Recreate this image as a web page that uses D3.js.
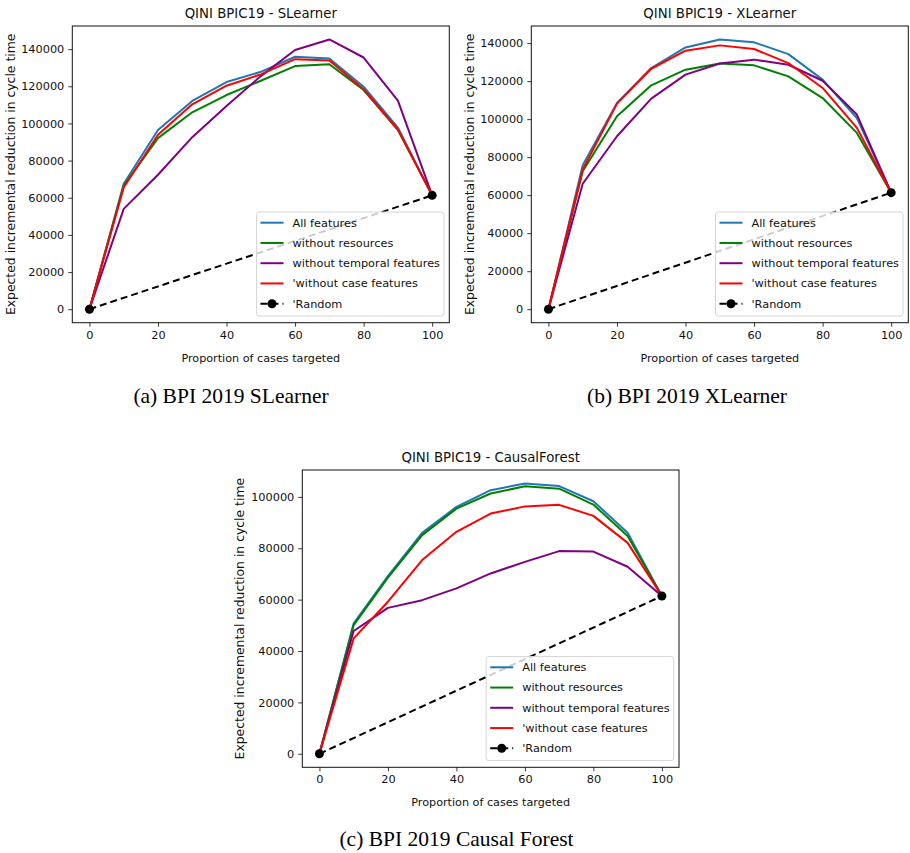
<!DOCTYPE html>
<html>
<head>
<meta charset="utf-8">
<script src="https://cdn.jsdelivr.net/npm/d3@7"></script>
<style>
body { margin: 0; background: #fff; }
text { font-family: "DejaVu Sans", sans-serif; fill: #111; }
.caption { font-family: "Liberation Serif", "Times New Roman", serif; font-size: 21.5px; fill: #000; }
</style>
</head>
<body>
<div id="chart"></div>
<script>
// proportion of cases targeted
var xs = [0, 10, 20, 30, 40, 50, 60, 70, 80, 90, 100];

var seriesNames = ["All features", "without resources", "without temporal features", "'without case features"];
var seriesColors = ["#1f77b4", "green", "purple", "red"];

// SLearner
var sAll      = [0, 67500, 96500, 112100, 122300, 127800, 135900, 135000, 119800, 97800, 61300];
var sNoRes    = [0, 66500, 92100, 106000, 115300, 123000, 130900, 131900, 118000, 96600, 61300];
var sNoTemp   = [0, 54000, 72400, 92600, 109400, 125500, 139500, 145200, 135500, 112300, 61300];
var sNoCase   = [0, 65500, 93900, 110300, 120300, 126400, 134600, 133900, 118400, 96600, 61300];

// XLearner
var xAll      = [0, 75800, 108500, 126900, 137700, 141900, 140400, 134200, 120800, 100600, 61300];
var xNoRes    = [0, 72600, 101500, 117800, 126000, 129300, 128300, 122500, 111100, 92750, 61300];
var xNoTemp   = [0, 66000, 91000, 110800, 123400, 129300, 131300, 128600, 120200, 102400, 61300];
var xNoCase   = [0, 73500, 108150, 126500, 136000, 138800, 136900, 129500, 116400, 95400, 61300];

// CausalForest
var cAll      = [0, 50800, 69150, 86000, 96100, 102600, 105200, 104200, 98300, 86000, 61400];
var cNoRes    = [0, 50100, 68600, 85100, 95400, 101300, 104100, 103200, 97000, 84800, 61400];
var cNoTemp   = [0, 47800, 56800, 59800, 64400, 70200, 74700, 78900, 78700, 72800, 61400];
var cNoCase   = [0, 44900, 59200, 75400, 86400, 93500, 96300, 96900, 92600, 82100, 61400];

var randomX = [0, 100];
var randomS = [0, 61300];
var randomX2 = [0, 61300];
var randomC = [0, 61400];

var xTicks = [0, 20, 40, 60, 80, 100];

var svg = d3.select("#chart").append("svg")
	.attr("width", 910)
	.attr("height", 853);

function drawPanel(cfg) {
	var g = svg.append("g");
	var left = cfg.left, top = cfg.top, w = cfg.w, h = cfg.h;

	var allVals = cfg.series.reduce(function(a, s) { return a.concat(s); }, []).concat(cfg.random);
	var ymax = d3.max(allVals), ymin = 0;
	var pad = (ymax - ymin) * 0.05;

	var xScale = d3.scaleLinear().domain([-5, 105]).range([left, left + w]);
	var yScale = d3.scaleLinear().domain([ymin - pad, ymax + pad]).range([top + h, top]);

	var line = d3.line()
		.x(function(d) { return xScale(d[0]); })
		.y(function(d) { return yScale(d[1]); });

	cfg.series.forEach(function(s, i) {
		g.append("path")
			.datum(xs.map(function(x, j) { return [x, s[j]]; }))
			.attr("d", line)
			.attr("fill", "none")
			.attr("stroke", seriesColors[i])
			.attr("stroke-width", 2)
			.attr("stroke-linejoin", "round");
	});

	var rnd = randomX.map(function(x, j) { return [x, cfg.random[j]]; });
	g.append("path")
		.datum(rnd)
		.attr("d", line)
		.attr("fill", "none")
		.attr("stroke", "black")
		.attr("stroke-width", 2)
		.attr("stroke-dasharray", "7,4");
	g.selectAll(".dot").data(rnd).enter()
		.append("circle")
		.attr("cx", function(d) { return xScale(d[0]); })
		.attr("cy", function(d) { return yScale(d[1]); })
		.attr("r", 4.5)
		.attr("fill", "black");

	// axes
	var xAxis = g.append("g")
		.attr("transform", "translate(0," + (top + h) + ")")
		.call(d3.axisBottom(xScale).tickValues(xTicks).tickSize(4).tickPadding(4));
	var yAxis = g.append("g")
		.attr("transform", "translate(" + left + ",0)")
		.call(d3.axisLeft(yScale).ticks(8).tickSize(4).tickPadding(4).tickFormat(d3.format("d")));
	[xAxis, yAxis].forEach(function(a) {
		a.select(".domain").remove();
		a.selectAll("text").attr("font-size", 11.3).attr("font-family", "DejaVu Sans");
		a.selectAll("line").attr("stroke", "#222").attr("stroke-width", 0.9);
	});
	g.append("rect")
		.attr("x", left).attr("y", top)
		.attr("width", w).attr("height", h)
		.attr("fill", "none")
		.attr("stroke", "#111")
		.attr("stroke-width", 1);

	// titles
	g.append("text")
		.attr("x", left + w / 2).attr("y", top - 8)
		.attr("text-anchor", "middle")
		.attr("font-size", 13.3)
		.text(cfg.title);
	g.append("text")
		.attr("x", left + w / 2).attr("y", top + h + 39)
		.attr("text-anchor", "middle")
		.attr("font-size", 11.2)
		.text("Proportion of cases targeted");
	g.append("text")
		.attr("transform", "translate(" + cfg.ylabX + "," + (top + h / 2) + ") rotate(-90)")
		.attr("text-anchor", "middle")
		.attr("dy", "0.35em")
		.attr("font-size", 12.4)
		.text("Expected incremental reduction in cycle time");

	// legend
	var lw = 187.5, lh = 104;
	var lx = left + w - 5.3 - lw, ly = top + h - 6.7 - lh;
	var leg = g.append("g").attr("transform", "translate(" + lx + "," + ly + ")");
	leg.append("rect")
		.attr("width", lw).attr("height", lh)
		.attr("rx", 2.5)
		.attr("fill", "white").attr("fill-opacity", 0.8)
		.attr("stroke", "#d6d6d6").attr("stroke-width", 1);
	var names = seriesNames.concat(["'Random"]);
	names.forEach(function(n, i) {
		var yy = 10.7 + i * 20.25;
		var ln = leg.append("line")
			.attr("x1", 4).attr("x2", 27)
			.attr("y1", yy).attr("y2", yy)
			.attr("stroke", i < 4 ? seriesColors[i] : "black")
			.attr("stroke-width", 2);
		if (i === 4) {
			ln.attr("stroke-dasharray", "7,4");
			leg.append("circle").attr("cx", 15.5).attr("cy", yy).attr("r", 4.5).attr("fill", "black");
		}
		leg.append("text")
			.attr("x", 36).attr("y", yy)
			.attr("dy", "0.35em")
			.attr("font-size", 11.3)
			.text(n);
	});

	svg.append("text")
		.attr("class", "caption")
		.attr("x", cfg.capX).attr("y", cfg.capY)
		.attr("text-anchor", "middle")
		.text(cfg.caption);
}

drawPanel({
	left: 72.3, top: 26, w: 377, h: 296.7,
	series: [sAll, sNoRes, sNoTemp, sNoCase], random: randomS,
	title: "QINI BPIC19 - SLearner", ylabX: 11,
	caption: "(a) BPI 2019 SLearner", capX: 231, capY: 403
});
drawPanel({
	left: 531.3, top: 26, w: 377, h: 296.7,
	series: [xAll, xNoRes, xNoTemp, xNoCase], random: randomX2,
	title: "QINI BPIC19 - XLearner", ylabX: 470,
	caption: "(b) BPI 2019 XLearner", capX: 687, capY: 403
});
drawPanel({
	left: 302.3, top: 470, w: 376.7, h: 297.3,
	series: [cAll, cNoRes, cNoTemp, cNoCase], random: randomC,
	title: "QINI BPIC19 - CausalForest", ylabX: 240,
	caption: "(c) BPI 2019 Causal Forest", capX: 456.5, capY: 846
});
</script>
</body>
</html>
